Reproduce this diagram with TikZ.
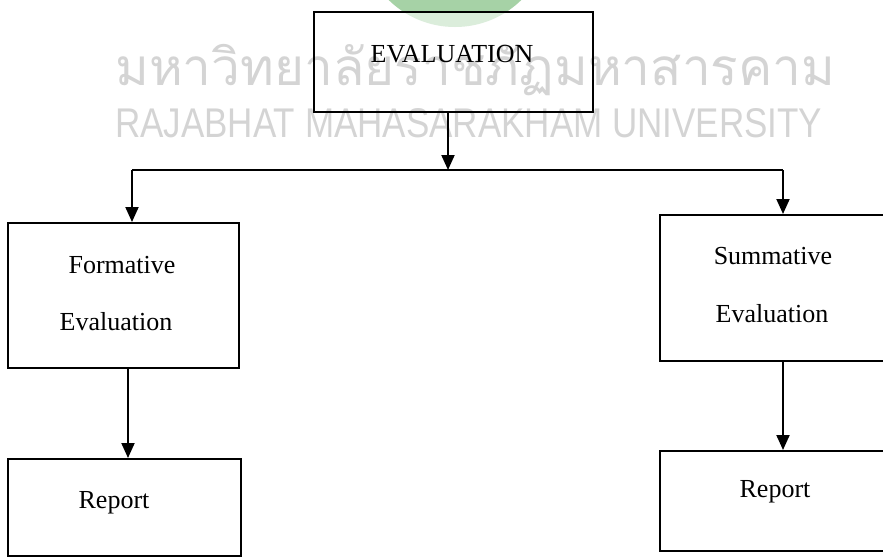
\documentclass[tikz,border=0pt]{standalone}
\usepackage{fontspec}
\usepackage{graphicx}
\setmainfont{Liberation Serif}
\newfontfamily\thaiwm[Script=Thai]{Loma}
\newfontfamily\latinwm{Liberation Sans}
\usetikzlibrary{arrows.meta}
\begin{document}
\begin{tikzpicture}[x=1pt,y=-1pt,
  box/.style={draw, line width=2pt, fill=white, fill opacity=0.6, draw opacity=1,
              inner sep=0pt, anchor=north west},
  lbl/.style={font=\fontsize{26}{30}\selectfont, inner sep=0pt, anchor=base},
  link/.style={line width=2pt},
  arr/.style={line width=2pt, -{Triangle[length=15pt,width=13pt]}},
  wm/.style={text=black, text opacity=0.17, inner sep=0pt, anchor=base west}]
  \clip (0,0) rectangle (883,558);
  \fill[white] (0,0) rectangle (883,558);

  % emblem behind the heading
  \fill[green!50!black, opacity=0.35] (455,-68) circle (95);

  % boxes
  \node[box, minimum width=279pt, minimum height=100pt] (ev) at (313,11) {};
  \node[box, minimum width=231pt, minimum height=145pt] (fe) at (7,222) {};
  \node[box, minimum width=233pt, minimum height=97pt]  (fr) at (7,458) {};
  \node[box, minimum width=240pt, minimum height=146pt] (se) at (659,214) {};
  \node[box, minimum width=240pt, minimum height=100pt] (sr) at (659,450) {};

  % labels
  \node[lbl] (evt)  at (452,62)  {EVALUATION};
  \node[lbl] (fet1) at (122,273) {Formative};
  \node[lbl] (fet2) at (116,330) {Evaluation};
  \node[lbl] (frt)  at (114,508) {Report};
  \node[lbl] (set1) at (773,264) {Summative};
  \node[lbl] (set2) at (772,322) {Evaluation};
  \node[lbl] (srt)  at (775,497) {Report};

  % branching connector
  \coordinate (barL) at (132,170);
  \coordinate (barM) at (448,170);
  \coordinate (barR) at (783,170);
  \draw[arr] (barM |- ev.south) -- (barM);
  \draw[link] (barL) -- (barR);
  \draw[arr] (barL) -- (barL |- fe.north);
  \draw[arr] (barR) -- (barR |- se.north);
  \draw[arr] (fe.south -| 128,0) -- (fr.north -| 128,0);
  \draw[arr] (se.south -| barR) -- (sr.north -| barR);

  % watermark
  \node[wm] (wmth) at (115,85)  {\resizebox{720pt}{!}{\thaiwm มหาวิทยาลัยราชภัฏมหาสารคาม}};
  \node[wm] (wmla) at (115,137) {\resizebox{707pt}{29pt}{\latinwm RAJABHAT MAHASARAKHAM UNIVERSITY}};
\end{tikzpicture}
\end{document}
